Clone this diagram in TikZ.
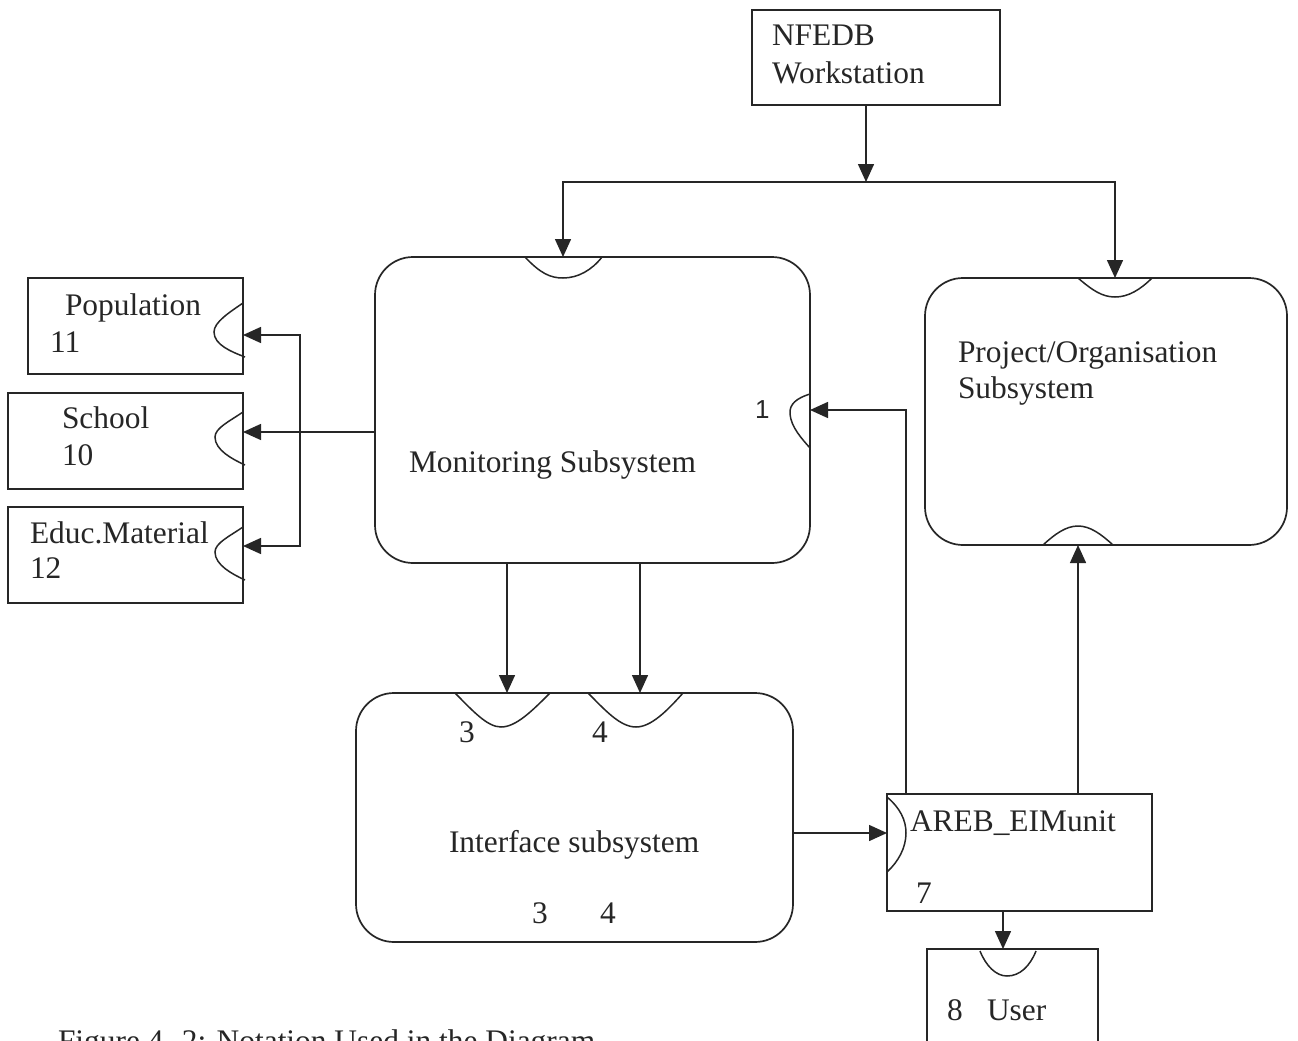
\documentclass[tikz,border=0pt]{standalone}
\usepackage{fontspec}
\setmainfont{Liberation Serif}
\newfontfamily\labelsans{Liberation Sans}
\usetikzlibrary{arrows.meta}
\definecolor{ink}{HTML}{262626}
\begin{document}
\begin{tikzpicture}[x=1pt,y=-1pt,
  every node/.style={inner sep=0pt, outer sep=0pt},
  box/.style={draw=ink, line width=1.7pt, anchor=north west, inner sep=0pt},
  roundbox/.style={box, rounded corners=38pt},
  notch/.style={draw=ink, line width=1.5pt},
  wire/.style={draw=ink, line width=1.5pt},
  arr/.style={wire, -{Triangle[length=18pt,width=16pt]}},
  txt/.style={anchor=base west, text=ink, font=\fontsize{31.4}{38}\selectfont},
]
\useasboundingbox (0,0) rectangle (1298,1041);
\fill[white] (0,0) rectangle (1298,1041);
\clip (0,0) rectangle (1298,1041);

% boxes
\node[box, minimum width=248pt, minimum height=95pt] (nfedb) at (752,10) {};
\node[roundbox, minimum width=435pt, minimum height=306pt] (mon) at (375,257) {};
\node[roundbox, minimum width=362pt, minimum height=267pt] (proj) at (925,278) {};
\node[roundbox, minimum width=437pt, minimum height=249pt] (iface) at (356,693) {};
\node[box, minimum width=265pt, minimum height=117pt] (areb) at (887,794) {};
\node[box, minimum width=171pt, minimum height=130pt] (user) at (927,949) {};
\node[box, minimum width=215pt, minimum height=96pt] (pop) at (28,278) {};
\node[box, minimum width=235pt, minimum height=96pt] (school) at (8,393) {};
\node[box, minimum width=235pt, minimum height=96pt] (educ) at (8,507) {};

% entry notches on the boxes
\draw[notch] (525,257) .. controls (540,273) and (550,278) .. (563,278) .. controls (578,278) and (592,270) .. (602,257);
\draw[notch] (810,394) .. controls (797,398) and (789,404) .. (790,414) .. controls (791,427) and (802,439) .. (810,448);
\draw[notch] (1078,278) .. controls (1092,290) and (1102,297) .. (1115,297) .. controls (1128,297) and (1140,290) .. (1152,278);
\draw[notch] (1043,545) .. controls (1055,534) and (1066,526) .. (1078,526) .. controls (1090,526) and (1101,534) .. (1113,545);
\draw[notch] (455,693) .. controls (472,710) and (487,727) .. (501,727) .. controls (516,727) and (532,711) .. (550,693);
\draw[notch] (588,693) .. controls (605,710) and (620,727) .. (636,727) .. controls (651,727) and (667,711) .. (683,693);
\draw[notch] (887,797) .. controls (900,808) and (906,820) .. (906,833) .. controls (906,848) and (898,862) .. (887,872);
\draw[notch] (980,951) .. controls (986,966) and (996,976) .. (1007,976) .. controls (1020,976) and (1030,966) .. (1036,951);
\draw[notch] (243,303) .. controls (230,312) and (214,322) .. (214,332) .. controls (214,345) and (232,352) .. (245,357);
\draw[notch] (243,412) .. controls (230,421) and (215,428) .. (215,437) .. controls (215,450) and (232,459) .. (245,465);
\draw[notch] (243,527) .. controls (230,536) and (215,543) .. (215,552) .. controls (215,565) and (232,574) .. (245,580);

% helper positions for the connectors
\coordinate (bus) at (0,182);
\coordinate (xn) at (866,0);
\coordinate (xl) at (563,0);
\coordinate (xr) at (1115,0);
\coordinate (split) at (300,432);
\coordinate (yp) at (0,335);
\coordinate (ye) at (0,546);
\coordinate (x3) at (507,0);
\coordinate (x4) at (640,0);
\coordinate (yi) at (0,833);
\coordinate (xa) at (906,0);
\coordinate (xp) at (1078,0);
\coordinate (xu) at (1003,0);

% connectors
\draw[arr] (xn |- nfedb.south) -- (xn |- bus);
\draw[arr] (xn |- bus) -| (xl |- mon.north);
\draw[arr] (xn |- bus) -| (xr |- proj.north);
\draw[arr] (mon.west |- split) -- (school.east |- split);
\draw[arr] (split) |- (pop.east |- yp);
\draw[arr] (split) |- (educ.east |- ye);
\draw[arr] (x3 |- mon.south) -- (x3 |- iface.north);
\draw[arr] (x4 |- mon.south) -- (x4 |- iface.north);
\draw[arr] (iface.east |- yi) -- (areb.west |- yi);
\draw[arr] (xa |- areb.north) |- (mon.east);
\draw[arr] (xp |- areb.north) -- (xp |- proj.south);
\draw[arr] (xu |- areb.south) -- (xu |- user.north);

% labels
\node[txt] (tN1) at (772,46) {NFEDB};
\node[txt] (tN2) at (772,83) {Workstation};
\node[txt] (tPop) at (65,315) {Population};
\node[txt] (tPopN) at (50,352) {11};
\node[txt] (tSch) at (62,428) {School};
\node[txt] (tSchN) at (62,465) {10};
\node[txt] (tEdu) at (30,543) {Educ.Material};
\node[txt] (tEduN) at (30,578) {12};
\node[txt] (tMon) at (409,472) {Monitoring Subsystem};
\node[txt, font=\labelsans\fontsize{26}{30}\selectfont] (tOne) at (755,418) {1};
\node[txt] (tPr1) at (958,362) {Project/Organisation};
\node[txt] (tPr2) at (958,398) {Subsystem};
\node[txt] (tIn3) at (459,742) {3};
\node[txt] (tIn4) at (592,742) {4};
\node[txt] (tIf) at (449,852) {Interface subsystem};
\node[txt] (tB3) at (532,923) {3};
\node[txt] (tB4) at (600,923) {4};
\node[txt] (tAr) at (910,831) {AREB\_EIMunit};
\node[txt] (tAr7) at (916,903) {7};
\node[txt] (tU8) at (947,1020) {8};
\node[txt] (tU) at (987,1020) {User};
\node[txt] (cap) at (58,1051) {Figure 4. 2: Notation Used in the Diagram};
\end{tikzpicture}
\end{document}
